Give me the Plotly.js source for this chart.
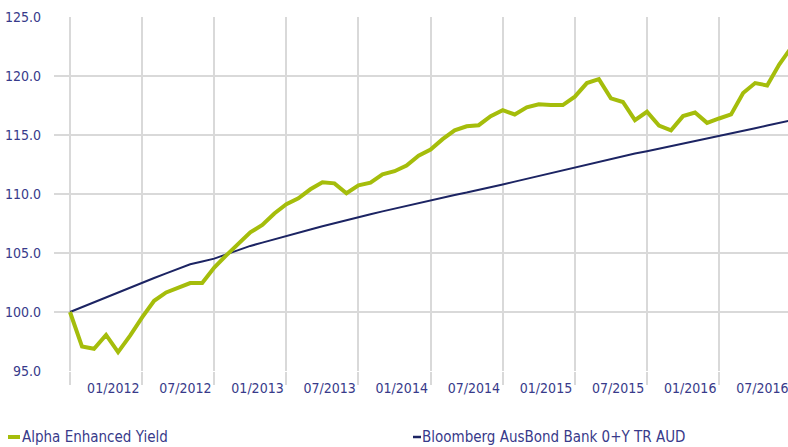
<!DOCTYPE html>
<html>
<head>
<meta charset="utf-8">
<script src="https://cdn.plot.ly/plotly-3.0.1.min.js"></script>
<style>html,body{margin:0;padding:0;background:#fff;}#chart{width:788px;height:447px;}</style>
</head>
<body>
<div id="chart"></div>
<script>
// month index (0 = start of series), one point per month
const monthIndex = [0,1,2,3,4,5,6,7,8,9,10,11,12,13,14,15,16,17,18,19,20,21,22,23,24,25,26,27,28,29,30,31,32,33,34,35,36,37,38,39,40,41,42,43,44,45,46,47,48,49,50,51,52,53,54,55,56,57,58,59,60];

const alphaEnhancedYield = [100.0,97.07,96.88,98.06,96.6,98.0,99.55,100.95,101.66,102.08,102.45,102.45,103.77,104.8,105.74,106.75,107.37,108.35,109.13,109.64,110.4,111.0,110.9,110.06,110.73,110.96,111.66,111.93,112.41,113.25,113.76,114.65,115.4,115.74,115.83,116.6,117.1,116.74,117.34,117.6,117.54,117.54,118.25,119.4,119.73,118.1,117.8,116.26,116.97,115.8,115.4,116.6,116.9,116.03,116.4,116.74,118.56,119.4,119.2,120.97,122.4];

const bloombergAusBond = [100.0,100.42,100.84,101.26,101.67,102.08,102.5,102.88,103.27,103.66,104.05,104.28,104.52,104.88,105.25,105.6,105.88,106.17,106.45,106.72,106.99,107.26,107.53,107.8,108.05,108.29,108.53,108.77,109.01,109.25,109.49,109.72,109.92,110.12,110.33,110.57,110.81,111.05,111.29,111.53,111.77,112.01,112.26,112.5,112.74,112.98,113.22,113.43,113.63,113.84,114.05,114.26,114.49,114.69,114.89,115.12,115.35,115.58,115.8,116.02,116.24];

const tickLabels = ["01/2012","07/2012","01/2013","07/2013","01/2014","07/2014","01/2015","07/2015","01/2016","07/2016"];
const labelPositions = [3.6,9.6,15.6,21.6,27.6,33.6,39.6,45.6,51.6,57.6];
const gridPositions = [0,6,12,18,24,30,36,42,48,54,60];

const seriesNames = ["Alpha Enhanced Yield", "Bloomberg AusBond Bank 0+Y TR AUD"];

const FONT = "'Liberation Sans Narrow', 'Arial Narrow', 'DejaVu Sans Condensed', sans-serif";
const TEXT = "#383a8a";
const GREEN = "#a5bd0b";
const NAVY = "#1c2463";
const GRID = "#d9d9d9";

// plot-area geometry helpers for the custom legend (paper coords)
const L = 54, R = 788, T = 17, B = 371;
const px = x => (x - L) / (R - L);
const py = y => (B - y) / (B - T);

const traces = [
  {x: monthIndex, y: bloombergAusBond, type: 'scatter', mode: 'lines', name: seriesNames[1],
   line: {color: NAVY, width: 2}, hoverinfo: 'skip'},
  {x: monthIndex, y: alphaEnhancedYield, type: 'scatter', mode: 'lines', name: seriesNames[0],
   line: {color: GREEN, width: 4}, hoverinfo: 'skip'}
];

const layout = {
  width: 788, height: 447,
  margin: {l: L, r: 788 - R, t: T, b: 447 - B},
  paper_bgcolor: '#fff', plot_bgcolor: '#fff',
  showlegend: false,
  font: {family: FONT, color: TEXT, size: 14},
  xaxis: {
    range: [-(70 - L) / 12.02, (R - 70) / 12.02],
    tickmode: 'array', tickvals: labelPositions, ticktext: tickLabels,
    ticks: '', showgrid: false, zeroline: false, showline: false,
    ticklabelstandoff: 7, ticklabeloverflow: 'allow',
    tickfont: {family: FONT, color: TEXT, size: 14},
    minor: {tickmode: 'array', tickvals: gridPositions, showgrid: true, gridcolor: GRID, gridwidth: 2,
            ticks: 'outside', ticklen: 13, tickwidth: 2, tickcolor: GRID}
  },
  yaxis: {
    range: [95, 125], dtick: 5, tick0: 95, tickformat: '.1f',
    showgrid: true, gridcolor: GRID, gridwidth: 2, zeroline: false, showline: false,
    ticks: '', ticklabelstandoff: 12,
    tickfont: {family: FONT, color: TEXT, size: 14}
  },
  shapes: [
    {type: 'line', xref: 'paper', yref: 'paper', x0: px(8), x1: px(20), y0: py(437), y1: py(437),
     line: {color: GREEN, width: 4}},
    {type: 'line', xref: 'paper', yref: 'paper', x0: px(413), x1: px(421), y0: py(437), y1: py(437),
     line: {color: NAVY, width: 2.5}}
  ],
  annotations: [
    {text: seriesNames[0], xref: 'paper', yref: 'paper', x: px(21), y: py(447), xanchor: 'left', yanchor: 'bottom',
     borderpad: 0, showarrow: false, font: {family: FONT, color: TEXT, size: 15}},
    {text: seriesNames[1], xref: 'paper', yref: 'paper', x: px(421), y: py(447), xanchor: 'left', yanchor: 'bottom',
     borderpad: 0, showarrow: false, font: {family: FONT, color: TEXT, size: 15}}
  ]
};

Plotly.newPlot('chart', traces, layout, {staticPlot: true, displayModeBar: false});
</script>
</body>
</html>
